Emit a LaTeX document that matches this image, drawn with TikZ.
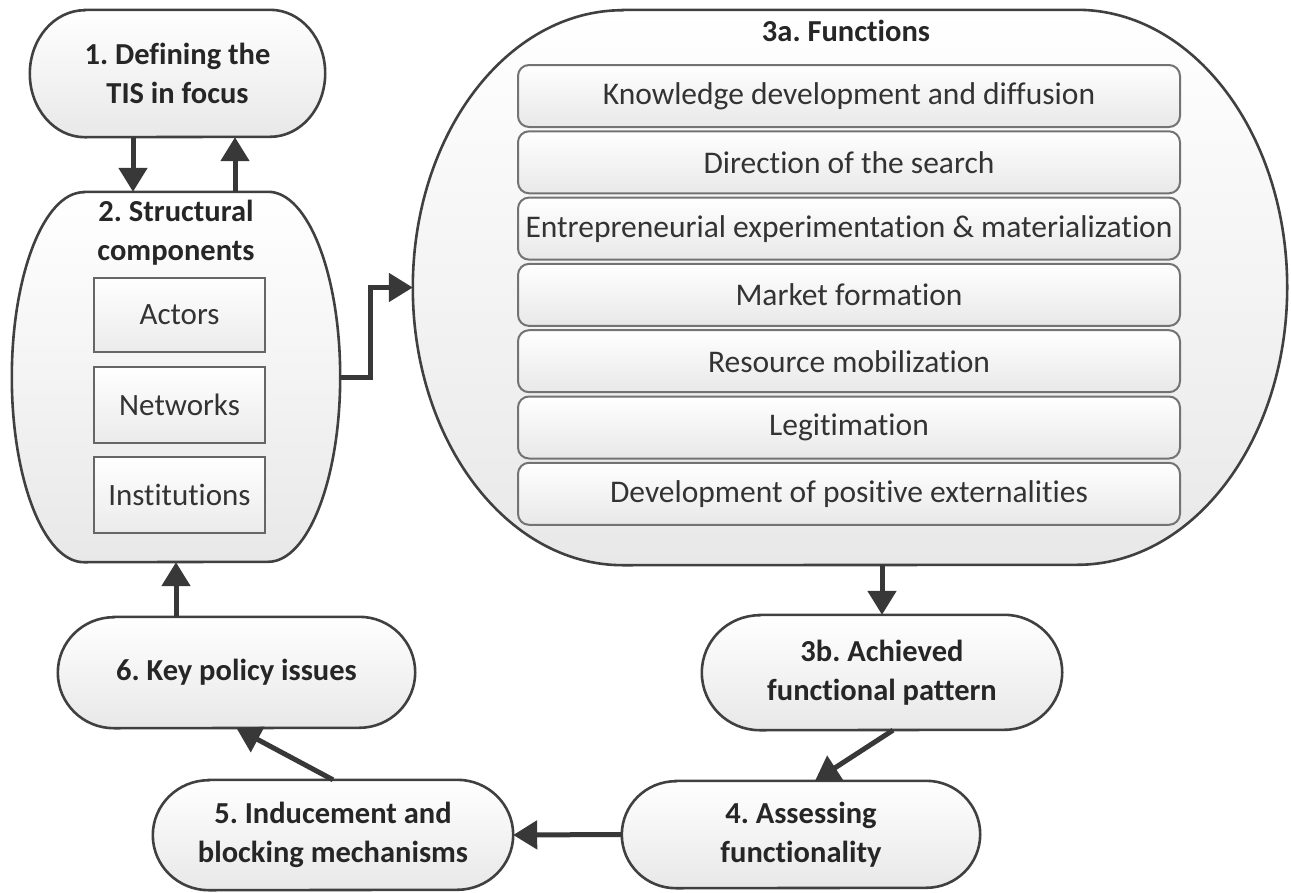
\documentclass[tikz,border=0pt]{standalone}
\usepackage{fontspec}
\setmainfont{Carlito}[Ligatures=NoCommon]
\usetikzlibrary{arrows.meta}
\pgfdeclarelayer{bg}
\pgfsetlayers{bg,main}
\frenchspacing
\newcommand\capsule[3]{\path[capstyle] ([xshift=#2pt]#1.north west) -- ([xshift=-#2pt]#1.north east) arc[start angle=90,end angle=-90,x radius=#2pt,y radius=#3pt] -- ([xshift=#2pt]#1.south west) arc[start angle=270,end angle=90,x radius=#2pt,y radius=#3pt] -- cycle;}
\begin{document}
\begin{tikzpicture}[x=1pt,y=-1pt,
  capstyle/.style={draw=black!75, line width=2.6pt, top color=white, bottom color=black!9},
  shell/.style={rectangle, inner sep=0pt, align=center, font=\fontsize{30.5}{39}\selectfont\bfseries, text=black!85},
  comp/.style={rectangle, draw=black!60, line width=2pt, top color=white, bottom color=black!8, minimum width=171pt, inner sep=0pt, font=\fontsize{31}{36}\selectfont, text=black!80},
  func/.style={rectangle, rounded corners=11pt, draw=black!55, line width=2pt, top color=white, bottom color=black!9, minimum width=662pt, minimum height=62pt, inner sep=0pt, font=\fontsize{31.5}{36}\selectfont, text=black!80},
  arr/.style={draw=black!78, line width=5pt, -{Triangle[length=24pt,width=28pt]}},
  ttl/.style={inner sep=0pt, align=center, font=\fontsize{30.5}{39}\selectfont\bfseries, text=black!85}]
\useasboundingbox (0,0) rectangle (1291,892);
% shells
\node[shell, minimum width=295pt, minimum height=127pt] (n1) at (177.5,73.5) {1. Defining the\\TIS in focus};
\node[shell, minimum width=328pt, minimum height=370pt] (n2) at (176,377) {};
\node[shell, minimum width=874pt, minimum height=555pt] (n3a) at (850,287.5) {};
\node[shell, minimum width=360pt, minimum height=115pt] (n3b) at (882,672.5) {3b. Achieved\\functional pattern};
\node[shell, minimum width=358pt, minimum height=107pt] (n4) at (801,834.5) {4. Assessing\\functionality};
\node[shell, minimum width=360pt, minimum height=110pt] (n5) at (333,835) {5. Inducement and\\blocking mechanisms};
\node[shell, minimum width=357pt, minimum height=111pt] (n6) at (236.5,672.5) {6. Key policy issues};
\begin{pgfonlayer}{bg}
\capsule{n1}{55}{63.5}
\capsule{n2}{72}{185}
\capsule{n3a}{210}{277.5}
\capsule{n3b}{58}{57.5}
\capsule{n4}{54}{53.5}
\capsule{n5}{56}{55}
\capsule{n6}{56}{55.5}
\end{pgfonlayer}
% titles
\node[ttl] (t2) at (176,233) {2. Structural\\components};
\node[ttl] (t3a) at (846,31) {3a. Functions};
% structural components
\node[comp, minimum height=74pt] (act) at (179.5,315) {Actors};
\node[comp, minimum height=76pt] (net) at (179.5,405) {Networks};
\node[comp, minimum height=76pt] (ins) at (179.5,495) {Institutions};
% functions
\node[func] (f1) at (849,96) {Knowledge development and diffusion};
\node[func] (f2) at (849,162.3) {Direction of the search};
\node[func] (f3) at (849,228.6) {Entrepreneurial experimentation \& materialization};
\node[func] (f4) at (849,294.9) {Market formation};
\node[func] (f5) at (849,361.2) {Resource mobilization};
\node[func] (f6) at (849,427.5) {Legitimation};
\node[func] (f7) at (849,493.8) {Development of positive externalities};
% arrows
\draw[arr] (n1.south -| 133,0) -- (n2.north -| 133,0);
\draw[arr] (n2.north -| 235,0) -- (n1.south -| 235,0);
\draw[arr] (n2.east) -- ++(30,0) |- (n3a.west);
\draw[arr] (n3a.south -| n3b.north) -- (n3b.north);
\draw[arr] ([xshift=11pt]n3b.south) -- ([xshift=14pt]n4.north);
\draw[arr] (n4.west) -- (n5.east);
\draw[arr] (n5.north) -- (n6.south);
\draw[arr] (n6.north -| n2.south) -- (n2.south);
\end{tikzpicture}
\end{document}
